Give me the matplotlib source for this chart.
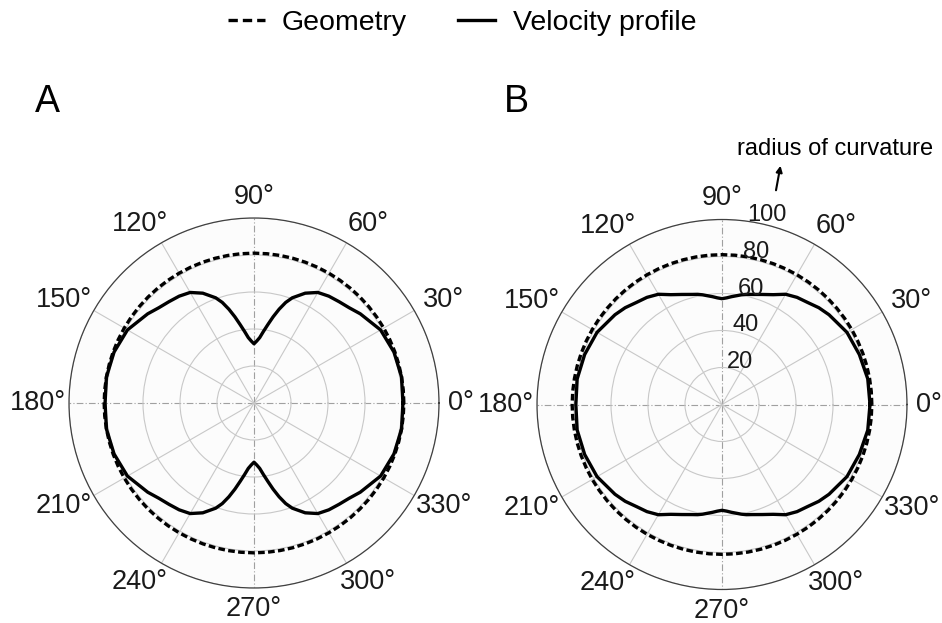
import numpy as np
import matplotlib
matplotlib.use('Agg')
import matplotlib.pyplot as plt
from matplotlib.lines import Line2D
from matplotlib.patches import FancyArrowPatch

plt.rcParams['font.family'] = ['Liberation Sans', 'DejaVu Sans']

# ---------------- data ----------------
theta_ticks = [0, 30, 60, 90, 120, 150, 180, 210, 240, 270, 300, 330]
theta_labels = ['0°', '30°', '60°', '90°', '120°', '150°', '180°',
                '210°', '240°', '270°', '300°', '330°']
r_rings = [20, 40, 60, 80, 100]
r_labels = ['20', '40', '60', '80', '100']
legend_labels = ['Geometry', 'Velocity profile']
panel_labels = ['A', 'B']

geometry_radius = 81
geometry_angles = list(range(0, 361, 5))

angles_A = [0, 10, 20, 30, 40, 45, 50, 55, 60, 65, 70, 72.5, 75, 77.5, 80, 82.5, 85, 87.5,
            90, 92.5, 95, 97.5, 100, 102.5, 105, 107.5, 110, 115, 120, 125, 130, 135, 140,
            150, 160, 170, 180, 190, 200, 210, 220, 225, 230, 235, 240, 245, 250, 252.5,
            255, 257.5, 260, 262.5, 265, 267.5, 270, 272.5, 275, 277.5, 280, 282.5, 285,
            287.5, 290, 295, 300, 305, 310, 315, 320, 330, 340, 350, 360]
velocity_A = [80.5, 81, 80.5, 79, 75, 72.8, 71.5, 70.5, 69, 65.5, 60.5, 57, 52.5, 47.7, 43, 39,
              35.5, 33.5, 32, 33.5, 35.5, 39, 43, 47.7, 52.5, 57, 60.5, 65.5, 69, 70.5, 71.5,
              72.8, 75, 79, 80.5, 81, 80.5, 81, 80.5, 79, 75, 72.8, 71.5, 70.5, 69, 65.5, 60.5,
              57, 52.5, 47.7, 43, 39, 35.5, 33.5, 32, 33.5, 35.5, 39, 43, 47.7, 52.5, 57,
              60.5, 65.5, 69, 70.5, 71.5, 72.8, 75, 79, 80.5, 81, 80.5]

angles_B = [0, 10, 20, 30, 40, 45, 50, 55, 60, 65, 70, 75, 77.5, 80, 85, 87.5, 90, 92.5, 95,
            100, 102.5, 105, 110, 115, 120, 125, 130, 135, 140, 150, 160, 170, 180, 190, 200,
            210, 220, 225, 230, 235, 240, 245, 250, 255, 257.5, 260, 265, 267.5, 270, 272.5,
            275, 280, 282.5, 285, 290, 295, 300, 305, 310, 315, 320, 330, 340, 350, 360]
velocity_B = [80, 80, 79, 78, 75.5, 74, 72, 70.7, 68.8, 65.5, 63.3, 61.6, 61, 60.2, 58.5, 57.7,
              57.2, 57.7, 58.5, 60.2, 61, 61.6, 63.3, 65.5, 68.8, 70.7, 72, 74, 75.5, 78, 79,
              79.5, 79, 79.5, 79, 78, 75.5, 74, 72, 70.7, 68.8, 65.5, 63.3, 61.6, 61, 60.2,
              58.5, 57.7, 57.2, 57.7, 58.5, 60.2, 61, 61.6, 63.3, 65.5, 68.8, 70.7, 72, 74,
              75.5, 78, 79, 80, 80]

# ---------------- layout ----------------
W, H = 942, 623
fig = plt.figure(figsize=(W / 100, H / 100), dpi=100)
fig.patch.set_facecolor('white')


def px_rect(cx, cy, R):
    return [(cx - R) / W, 1 - (cy + R) / H, 2 * R / W, 2 * R / H]


axA = fig.add_axes(px_rect(254, 403, 185), projection='polar')
axB = fig.add_axes(px_rect(722, 404.5, 185), projection='polar')

LW = 2.4
for ax, ang, vel in [(axA, angles_A, velocity_A), (axB, angles_B, velocity_B)]:
    ax.set_facecolor('#fcfcfc')
    ax.set_ylim(0, 100)
    ax.set_xticks(np.deg2rad(theta_ticks))
    ax.set_xticklabels([])
    ax.set_yticks(r_rings)
    ax.set_yticklabels([])
    ax.grid(True, color='#c8c8c8', lw=0.8)
    for i, gl in enumerate(ax.xaxis.get_gridlines()):
        if theta_ticks[i] % 90 == 0:
            gl.set_linestyle((0, (6, 2, 1, 2)))
            gl.set_color('#a0a0a0')
    ax.spines['polar'].set_color('#404040')
    ax.spines['polar'].set_linewidth(0.9)
    for t, lab in zip(theta_ticks, theta_labels):
        c = np.cos(np.deg2rad(t))
        side = 0 if abs(c) < 1e-6 else np.sign(c)
        if t == 0:
            shift = 0.5
        elif t == 180:
            shift = 7.0
        else:
            shift = 8.0
        ax.annotate(lab, xy=(np.deg2rad(t), 111.5), xytext=(side * shift, 0),
                    textcoords='offset points', ha='center', va='center',
                    fontsize=19.5, color='#1a1a1a', annotation_clip=False)
    ax.plot(np.deg2rad(geometry_angles), [geometry_radius] * len(geometry_angles),
            color='black', lw=LW, ls=(0, (2, 1)))
    ax.plot(np.deg2rad(ang), vel, color='black', lw=LW, solid_joinstyle='round')

for r, lab in zip(r_rings, r_labels):
    axB.text(np.deg2rad(82), r, lab, ha='left', va='baseline', fontsize=17, color='#1a1a1a')

# panel letters
fig.text(35 / W, 1 - 112 / H, panel_labels[0], fontsize=27, ha='left', va='baseline')
fig.text(504 / W, 1 - 112 / H, panel_labels[1], fontsize=27, ha='left', va='baseline')

# annotation
fig.text(737 / W, 1 - 155 / H, 'radius of curvature', fontsize=17, ha='left', va='baseline')
fig.add_artist(FancyArrowPatch(posA=(775.5 / W, 1 - 193 / H), posB=(781 / W, 1 - 163 / H),
                               transform=fig.transFigure, arrowstyle='-|>',
                               mutation_scale=9, lw=1.5, color='black'))

# legend
handles = [Line2D([], [], color='black', lw=LW, ls=(0, (2.8, 1.5))),
           Line2D([], [], color='black', lw=LW)]
fig.legend(handles, legend_labels, ncol=2, loc='center',
           bbox_to_anchor=(462 / W, 1 - 23 / H), frameon=False, fontsize=20.5,
           handlelength=1.3, handletextpad=0.6, columnspacing=1.8,
           borderpad=0, borderaxespad=0)

fig.savefig('out.png', dpi=100)
